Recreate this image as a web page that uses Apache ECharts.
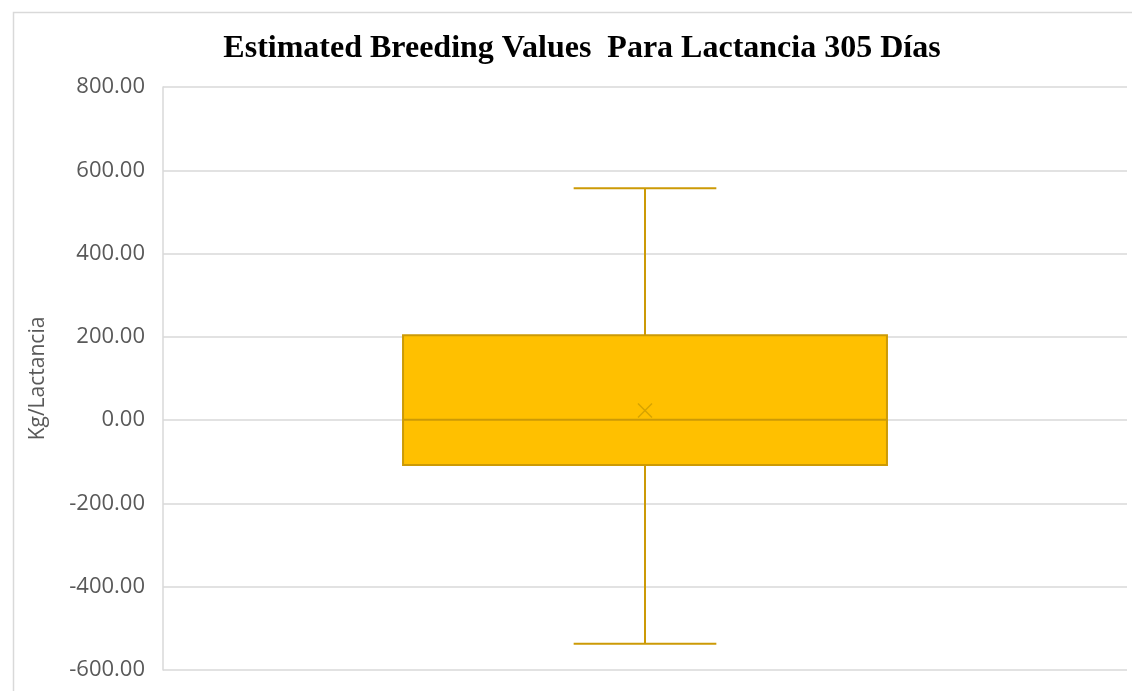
<!DOCTYPE html>
<html>
<head>
<meta charset="utf-8">
<script src="https://cdn.jsdelivr.net/npm/echarts@6/dist/echarts.min.js"></script>
<style>
  html, body { margin: 0; padding: 0; background: #fff; }
  #main { width: 1132px; height: 691px; }
</style>
</head>
<body>
<div id="main"></div>
<script>
// box values (Kg/Lactancia)
var categories = ['Lactancia 305 Días'];
var minValues = [-537];
var q1Values = [-108];
var medianValues = [1];
var q3Values = [204];
var maxValues = [557];
var meanValues = [23];
var yTicks = [-600, -400, -200, 0, 200, 400, 600, 800];

var myChart = echarts.init(document.getElementById('main'));

var boxRows = categories.map(function (c, i) {
    return [i, minValues[i], q1Values[i], medianValues[i], q3Values[i], maxValues[i], meanValues[i]];
});

var lineColor = '#CC9A06';
var fillColor = '#FFC000';

function renderBox(params, api) {
    var idx = api.value(0);
    var band = api.size([1, 0])[0];
    var half = band * 0.251;
    var capHalf = band * 0.074;
    var pMin = api.coord([idx, api.value(1)]);
    var pQ1 = api.coord([idx, api.value(2)]);
    var pMed = api.coord([idx, api.value(3)]);
    var pQ3 = api.coord([idx, api.value(4)]);
    var pMax = api.coord([idx, api.value(5)]);
    var pMean = api.coord([idx, api.value(6)]);
    var cx = pMed[0];
    var ls = { stroke: lineColor, lineWidth: 2 };
    var xs = 7;
    return {
        type: 'group',
        children: [
            { type: 'line', shape: { x1: cx, y1: pMax[1], x2: cx, y2: pQ3[1] }, style: ls },
            { type: 'line', shape: { x1: cx - capHalf, y1: pMax[1], x2: cx + capHalf, y2: pMax[1] }, style: ls },
            { type: 'line', shape: { x1: cx, y1: pQ1[1], x2: cx, y2: pMin[1] }, style: ls },
            { type: 'line', shape: { x1: cx - capHalf, y1: pMin[1], x2: cx + capHalf, y2: pMin[1] }, style: ls },
            {
                type: 'rect',
                shape: { x: cx - half, y: pQ3[1], width: half * 2, height: pQ1[1] - pQ3[1] },
                style: { fill: fillColor, stroke: lineColor, lineWidth: 2 }
            },
            { type: 'line', shape: { x1: cx - half, y1: pMed[1], x2: cx + half, y2: pMed[1] }, style: ls },
            { type: 'line', shape: { x1: cx - xs, y1: pMean[1] - xs, x2: cx + xs, y2: pMean[1] + xs }, style: { stroke: '#D7A300', lineWidth: 1.5 } },
            { type: 'line', shape: { x1: cx - xs, y1: pMean[1] + xs, x2: cx + xs, y2: pMean[1] - xs }, style: { stroke: '#D7A300', lineWidth: 1.5 } }
        ]
    };
}

var option = {
    backgroundColor: '#fff',
    animation: false,
    graphic: [{
        type: 'rect',
        left: 11, top: 10,
        shape: { width: 1200, height: 720 },
        style: { fill: 'none', stroke: '#d9d9d9', lineWidth: 1.5 },
        silent: true
    }],
    title: {
        text: 'Estimated Breeding Values  Para Lactancia 305 Días',
        left: 577,
        textAlign: 'center',
        top: 28,
        textStyle: {
            fontFamily: 'Liberation Serif',
            fontWeight: 'bold',
            fontSize: 32,
            color: '#000'
        }
    },
    grid: { left: 163, right: 5, top: 87, bottom: 21 },
    xAxis: {
        type: 'category',
        data: categories,
        axisLine: { show: false },
        axisTick: { show: false },
        axisLabel: { show: false }
    },
    yAxis: {
        type: 'value',
        min: yTicks[0],
        max: yTicks[yTicks.length - 1],
        interval: 200,
        name: 'Kg/Lactancia',
        nameLocation: 'middle',
        nameGap: 114,
        nameTextStyle: { fontFamily: 'Open Sans', fontSize: 21, color: '#595959' },
        axisLine: { show: true, lineStyle: { color: '#d9d9d9', width: 1.5 } },
        axisTick: { show: false },
        axisLabel: {
            margin: 18,
            fontFamily: 'Open Sans',
            fontSize: 22,
            color: '#595959',
            formatter: function (v) { return v.toFixed(2); }
        },
        splitLine: { lineStyle: { color: '#d9d9d9', width: 1.5 } }
    },
    series: [{
        type: 'custom',
        renderItem: renderBox,
        encode: { x: 0, y: [1, 2, 3, 4, 5, 6] },
        data: boxRows
    }]
};
myChart.setOption(option);
</script>
</body>
</html>
